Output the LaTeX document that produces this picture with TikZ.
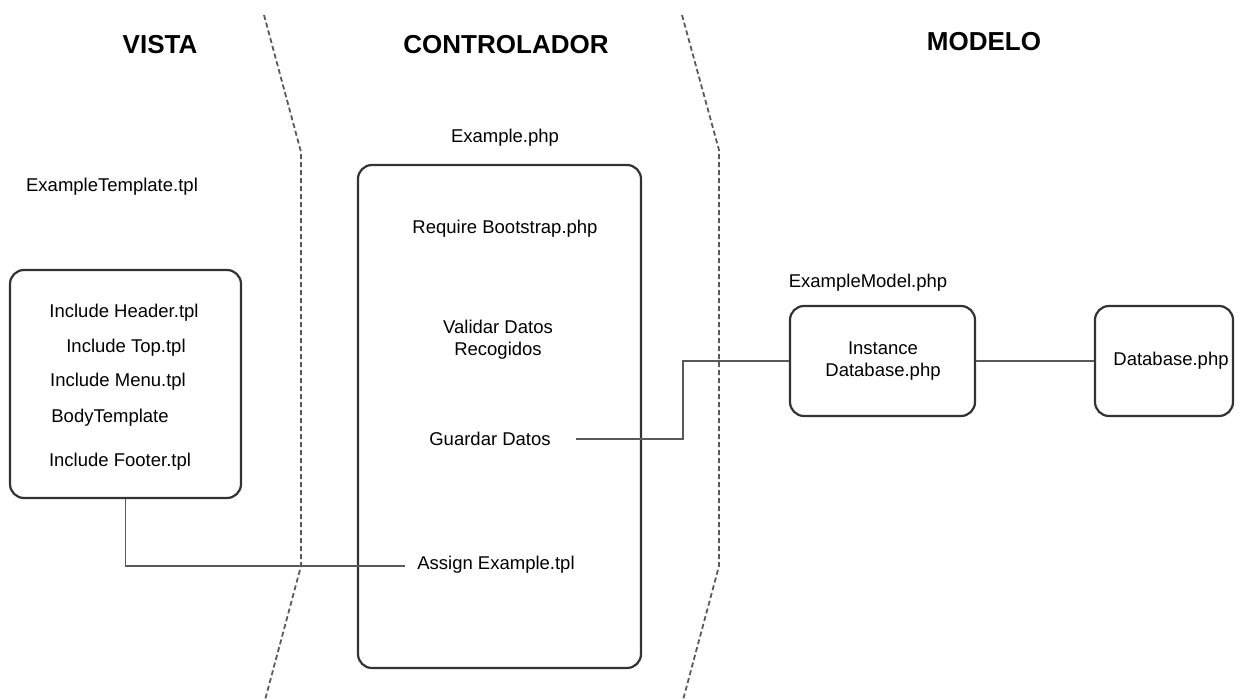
\documentclass[tikz,border=0pt]{standalone}
\usepackage{fontspec}
\setmainfont{Liberation Sans}
\begin{document}
\begin{tikzpicture}[x=1pt,y=-1pt,
  title/.style={font=\fontsize{26}{30}\selectfont\bfseries, inner sep=0},
  lbl/.style={font=\fontsize{18.5}{22}\selectfont, inner sep=0, align=center},
  rbox/.style={draw=black!80, line width=2.2pt, rounded corners=14pt},
  sep/.style={draw=black!65, line width=1.8pt, dash pattern=on 5pt off 3pt},
  conn/.style={draw=black!65, line width=1.6pt}]
\useasboundingbox (0,0) rectangle (1241,700);
% titles
\node[title] (tv) at (160,45) {VISTA};
\node[title] (tc) at (506,45) {CONTROLADOR};
\node[title] (tm) at (984,42) {MODELO};
% separators
\coordinate (s1a) at (264,15); \coordinate (s1b) at (301,152);
\coordinate (s1c) at (301,566); \coordinate (s1d) at (265,700);
\coordinate (s2a) at (682,15); \coordinate (s2b) at (719,150);
\coordinate (s2c) at (719,566); \coordinate (s2d) at (683,700);
\draw[sep] (s1a) -- (s1b) -- (s1c) -- (s1d);
\draw[sep] (s2a) -- (s2b) -- (s2c) -- (s2d);
% view
\node[lbl] (vtpl) at (112,187) {ExampleTemplate.tpl};
\node[rbox, minimum width=231pt, minimum height=228pt] (vbox) at (125.5,384) {};
\node[lbl] (v1) at (124,313) {Include Header.tpl};
\node[lbl] (v2) at (126,348) {Include Top.tpl};
\node[lbl] (v3) at (118,382) {Include Menu.tpl};
\node[lbl] (v4) at (110,418) {BodyTemplate};
\node[lbl] (v5) at (120,462) {Include Footer.tpl};
% controller
\node[lbl] (cphp) at (505,138) {Example.php};
\node[rbox, minimum width=283pt, minimum height=503pt] (cbox) at (499.5,416.5) {};
\node[lbl] (c1) at (505,229) {Require Bootstrap.php};
\node[lbl] (c2) at (498,340) {Validar Datos\\Recogidos};
\node[lbl] (c3) at (490,439) {Guardar Datos};
\node[lbl] (c4) at (496,565) {Assign Example.tpl};
% model
\node[lbl] (mphp) at (868,283) {ExampleModel.php};
\node[rbox, minimum width=185pt, minimum height=110pt] (mbox) at (882.5,361) {};
\node[lbl] (m1) at (883,361) {Instance\\Database.php};
\node[rbox, minimum width=138pt, minimum height=110pt] (dbox) at (1164,361) {};
\node[lbl] (d1) at (1171,361) {Database.php};
% connectors
\coordinate (gend) at (576,439);
\coordinate (aend) at (405,566);
\coordinate (bend) at (683,361);
\draw[conn] (vbox.south) |- (aend);
\draw[conn] (gend) -| (bend) -- (mbox.west);
\draw[conn] (mbox.east) -- (dbox.west);
\end{tikzpicture}
\end{document}
